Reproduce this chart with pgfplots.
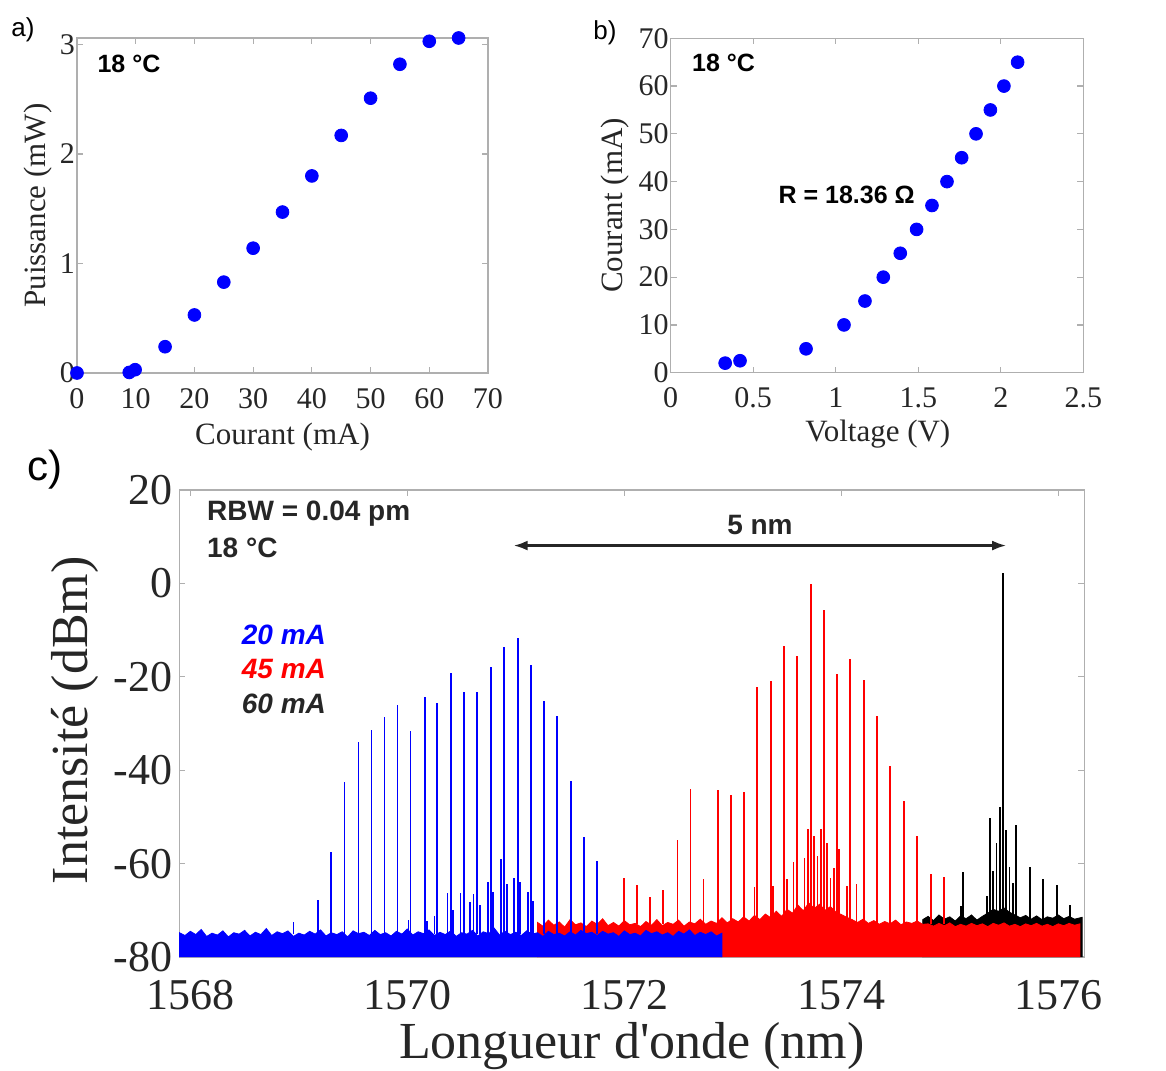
\documentclass[border=0pt]{standalone}
\usepackage{fontspec}
\setmainfont{Liberation Serif}
\newfontfamily\arial{Liberation Sans}
\usepackage{pgfplots}
\pgfplotsset{compat=1.18}
\usepackage{pgfplotstable}
\usetikzlibrary{arrows.meta}
\definecolor{axisgray}{RGB}{175,175,175}
\definecolor{txt}{RGB}{38,38,38}
\definecolor{mblue}{RGB}{0,0,255}
\definecolor{mred}{RGB}{255,0,0}

\pgfplotstableread{
x y
1567.90 -80
1567.90 -74.8
1567.95 -75.4
1568.00 -74.5
1568.05 -75.2
1568.10 -74.1
1568.15 -75.6
1568.20 -74.9
1568.25 -75.3
1568.30 -74.4
1568.35 -75.7
1568.40 -74.8
1568.45 -75.1
1568.50 -74.3
1568.55 -75.5
1568.60 -74.7
1568.65 -75.2
1568.70 -73.9
1568.75 -75.4
1568.80 -74.6
1568.85 -75.0
1568.90 -74.4
1568.95 -75.6
1569.00 -74.9
1569.05 -75.3
1569.10 -74.5
1569.15 -75.1
1569.20 -74.2
1569.25 -75.5
1569.30 -74.8
1569.35 -75.2
1569.40 -74.6
1569.45 -75.7
1569.50 -74.4
1569.55 -75.0
1569.60 -74.7
1569.65 -75.4
1569.70 -74.3
1569.75 -75.2
1569.80 -74.8
1569.85 -75.5
1569.90 -74.5
1569.95 -75.1
1570.00 -74.0
1570.05 -75.3
1570.10 -74.6
1570.15 -75.0
1570.20 -74.2
1570.25 -75.4
1570.30 -74.7
1570.35 -75.2
1570.40 -74.4
1570.45 -75.6
1570.50 -74.8
1570.55 -75.1
1570.60 -74.3
1570.65 -75.5
1570.70 -74.6
1570.75 -75.0
1570.80 -73.8
1570.85 -75.3
1570.90 -74.5
1570.95 -75.2
1571.00 -74.7
1571.05 -75.4
1571.10 -74.4
1571.15 -75.1
1571.20 -74.8
1571.25 -75.6
1571.30 -74.5
1571.35 -75.2
1571.40 -74.9
1571.45 -75.5
1571.50 -74.6
1571.55 -75.3
1571.60 -74.3
1571.65 -75.0
1571.70 -74.7
1571.75 -75.4
1571.80 -74.5
1571.85 -75.1
1571.90 -74.8
1571.95 -75.6
1572.00 -74.4
1572.05 -75.2
1572.10 -74.9
1572.15 -75.5
1572.20 -74.3
1572.25 -75.0
1572.30 -74.6
1572.35 -75.3
1572.40 -74.8
1572.45 -75.6
1572.50 -74.5
1572.55 -75.1
1572.60 -74.2
1572.65 -75.4
1572.70 -74.7
1572.75 -75.2
1572.80 -74.6
1572.85 -75.5
1572.90 -74.9
1572.90 -80
}\bluefloor

\pgfplotstableread{
x y
1571.20 -80
1571.20 -72.6
1571.25 -73.4
1571.30 -72.1
1571.35 -73.2
1571.40 -72.5
1571.45 -73.6
1571.50 -72.0
1571.55 -73.1
1571.60 -72.7
1571.65 -73.5
1571.70 -72.3
1571.75 -73.0
1571.80 -71.8
1571.85 -73.3
1571.90 -72.6
1571.95 -73.4
1572.00 -72.2
1572.05 -73.1
1572.10 -72.8
1572.15 -73.5
1572.20 -72.4
1572.25 -73.2
1572.30 -72.0
1572.35 -73.3
1572.40 -72.6
1572.45 -73.0
1572.50 -72.1
1572.55 -73.4
1572.60 -72.5
1572.65 -72.9
1572.70 -71.9
1572.75 -73.0
1572.80 -72.3
1572.85 -72.8
1572.90 -71.6
1572.95 -72.7
1573.00 -71.8
1573.05 -72.5
1573.10 -71.4
1573.15 -72.3
1573.20 -71.1
1573.25 -72.0
1573.30 -70.8
1573.35 -71.6
1573.40 -70.2
1573.45 -71.3
1573.50 -69.8
1573.55 -70.6
1573.60 -68.9
1573.65 -70.1
1573.70 -68.4
1573.75 -69.6
1573.80 -68.7
1573.85 -70.0
1573.90 -69.2
1573.95 -70.4
1574.00 -70.9
1574.05 -71.5
1574.10 -72.0
1574.15 -72.6
1574.20 -71.9
1574.25 -72.8
1574.30 -72.2
1574.35 -73.0
1574.40 -72.4
1574.45 -72.9
1574.50 -72.1
1574.55 -73.1
1574.60 -72.5
1574.65 -72.8
1574.70 -72.3
1574.75 -73.0
1574.80 -72.9
1574.85 -73.4
1574.90 -72.8
1574.95 -73.3
1575.00 -72.7
1575.05 -73.5
1575.10 -73.0
1575.15 -73.4
1575.20 -72.8
1575.25 -73.3
1575.30 -72.9
1575.35 -73.5
1575.40 -72.8
1575.45 -73.2
1575.50 -72.7
1575.55 -73.4
1575.60 -73.0
1575.65 -73.5
1575.70 -72.9
1575.75 -73.3
1575.80 -72.8
1575.85 -73.4
1575.90 -73.0
1575.95 -73.5
1576.00 -72.9
1576.05 -73.3
1576.10 -72.8
1576.15 -73.2
1576.20 -72.9
1576.20 -80
}\redfloor

\pgfplotstableread{
x y
1574.75 -80
1574.75 -72.0
1574.80 -71.3
1574.85 -72.2
1574.90 -71.0
1574.95 -71.9
1575.00 -71.4
1575.05 -72.3
1575.10 -71.2
1575.15 -71.8
1575.20 -71.0
1575.25 -72.1
1575.30 -71.3
1575.35 -70.6
1575.40 -69.8
1575.45 -70.2
1575.50 -69.5
1575.55 -70.4
1575.60 -71.0
1575.65 -71.6
1575.70 -71.1
1575.75 -71.9
1575.80 -71.2
1575.85 -72.0
1575.90 -71.4
1575.95 -71.7
1576.00 -71.0
1576.05 -71.8
1576.10 -71.3
1576.15 -71.9
1576.22 -71.5
1576.22 -80
}\blackfloor

\pgfplotstableread{
x y top
1568.95 -75 -72.6
1569.18 -75 -67.9
1569.30 -75 -57.6
1569.42 -75 -42.6
1569.55 -75 -34.0
1569.67 -75 -31.5
1569.79 -75 -28.7
1569.91 -75 -26.0
1570.01 -75 -72.1
1570.03 -75 -31.7
1570.16 -75 -24.4
1570.18 -75 -72.2
1570.25 -75 -71.2
1570.27 -75 -25.6
1570.37 -75 -66.3
1570.40 -75 -19.1
1570.42 -75 -70.0
1570.49 -75 -66.2
1570.52 -75 -23.3
1570.58 -75 -68.3
1570.61 -75 -66.5
1570.64 -75 -23.3
1570.67 -75 -68.8
1570.74 -75 -64.0
1570.77 -75 -17.8
1570.79 -75 -66.0
1570.86 -75 -59.0
1570.89 -75 -13.6
1570.92 -75 -64.4
1570.98 -75 -63.1
1571.02 -75 -11.7
1571.04 -75 -63.9
1571.11 -75 -66.0
1571.14 -75 -17.4
1571.16 -75 -68.1
1571.26 -75 -25.1
1571.38 -75 -28.3
1571.51 -75 -42.4
1571.63 -75 -54.2
1571.75 -75 -59.4
}\bluespikes

\pgfplotstableread{
x y top
1572.00 -73 -63.0
1572.12 -73 -64.6
1572.24 -73 -67.2
1572.36 -73 -65.7
1572.49 -73 -54.9
1572.61 -73 -44.0
1572.73 -73 -63.2
1572.86 -73 -44.2
1572.98 -73 -45.4
1573.10 -73 -44.7
1573.20 -73 -65.0
1573.22 -73 -22.2
1573.35 -73 -21.0
1573.37 -73 -64.7
1573.47 -73 -13.4
1573.50 -73 -63.4
1573.56 -73 -59.6
1573.59 -73 -15.6
1573.66 -73 -58.7
1573.69 -73 -52.6
1573.72 -73 -0.1
1573.75 -73 -54.0
1573.78 -73 -58.4
1573.81 -73 -52.6
1573.84 -73 -5.6
1573.87 -73 -55.5
1573.90 -73 -63.1
1573.93 -73 -60.9
1573.96 -73 -19.5
1573.98 -73 -56.9
1574.05 -73 -64.7
1574.08 -73 -16.1
1574.14 -73 -64.3
1574.21 -73 -20.6
1574.33 -73 -28.5
1574.45 -73 -39.2
1574.58 -73 -46.5
1574.70 -73 -54.0
1574.83 -73 -62.2
1574.95 -73 -62.8
}\redspikes

\pgfplotstableread{
x y top
1575.10 -72 -69.0
1575.12 -72 -61.9
1575.34 -72 -67.0
1575.37 -72 -50.3
1575.40 -72 -61.5
1575.43 -72 -55.5
1575.46 -72 -47.8
1575.49 -72 2.3
1575.52 -72 -52.8
1575.55 -72 -60.7
1575.58 -72 -64.2
1575.61 -72 -51.7
1575.74 -72 -60.7
1575.86 -72 -63.3
1575.99 -72 -64.6
1576.11 -72 -68.8
}\blackspikes

\pgfplotsset{
  matlab/.style={
    scale only axis,
    axis line style={draw=axisgray, line width=0.6pt},
    tick style={draw=axisgray, line width=0.6pt},
    tick align=inside,
    major tick length=3pt,
    minor tick num=0,
    ticklabel style={text=txt},
    label style={text=txt},
    scaled ticks=false,
    /pgf/number format/assume math mode=true,
    /pgf/number format/1000 sep={},
    clip=false,
  },
  spike/.style={draw=none, mark=none,
    error bars/.cd, y dir=plus, y explicit, error mark=none,
    error bar style={draw=#1, line width=0.9pt}},
}

\begin{document}
\begin{tikzpicture}
\path[use as bounding box] (0,0) rectangle (583pt,535pt);

% ---------------- panel a
\begin{axis}[matlab,
  at={(38.5pt,348.5pt)}, anchor=south west,
  width=205.5pt, height=167.5pt,
  xmin=0, xmax=70, ymin=0, ymax=3.06,
  xtick={0,10,...,70}, ytick={0,1,2,3},
  ticklabel style={font=\fontsize{15}{15}\selectfont},
  xticklabel style={yshift=-4pt},
  yticklabel style={xshift=2.5pt},
  xlabel={Courant (mA)}, ylabel={Puissance (mW)},
  label style={font=\fontsize{15.5}{15.5}\selectfont},
  xlabel style={at={(axis description cs:0.5,-0.19)}, anchor=center},
  ylabel style={at={(axis description cs:-0.095,0.5)}, anchor=center},
]
\addplot[only marks, mark=*, mark size=3.2pt, color=mblue] coordinates {
(0,0) (8.9,0.005) (9.9,0.03) (15,0.24) (20,0.53) (25,0.83) (30,1.14)
(35,1.47) (40,1.80) (45,2.17) (50,2.51) (55,2.82) (60,3.03) (65,3.06)};
\node[anchor=west, font=\arial\bfseries\fontsize{12.5}{12.5}\selectfont] at (axis cs:2.3,2.82) {18 °C};
\end{axis}

% ---------------- panel b
\begin{axis}[matlab,
  at={(335.35pt,348.65pt)}, anchor=south west,
  width=206.3pt, height=167.2pt,
  xmin=0, xmax=2.5, ymin=0, ymax=70,
  xtick={0,0.5,1,1.5,2,2.5}, ytick={0,10,...,70},
  ticklabel style={font=\fontsize{15}{15}\selectfont},
  xticklabel style={yshift=-4pt},
  yticklabel style={xshift=2.5pt},
  xlabel={Voltage (V)}, ylabel={Courant (mA)},
  label style={font=\fontsize{15.5}{15.5}\selectfont},
  xlabel style={at={(axis description cs:0.502,-0.185)}, anchor=center},
  ylabel style={at={(axis description cs:-0.135,0.5)}, anchor=center},
]
\addplot[only marks, mark=*, mark size=3.2pt, color=mblue] coordinates {
(0.33,2) (0.42,2.5) (0.82,5) (1.05,10) (1.177,15) (1.288,20) (1.391,25)
(1.49,30) (1.583,35) (1.674,40) (1.763,45) (1.85,50) (1.937,55) (2.019,60) (2.102,65)};
\node[anchor=west, font=\arial\bfseries\fontsize{12.5}{12.5}\selectfont] at (axis cs:0.087,64.8) {18 °C};
\node[font=\arial\bfseries\fontsize{12.5}{12.5}\selectfont] at (axis cs:1.066,37.2) {R = 18.36 Ω};
\end{axis}

% ---------------- panel c
\begin{axis}[matlab,
  at={(89.75pt,56.5pt)}, anchor=south west,
  width=452.4pt, height=233.5pt,
  xmin=1567.9, xmax=1576.24, ymin=-80, ymax=20,
  xtick={1568,1570,...,1576}, ytick={-80,-60,...,20},
  ticklabel style={font=\fontsize{22}{22}\selectfont},
  xticklabel style={yshift=-8pt},
  xlabel={Longueur d\textquotesingle onde (nm)}, ylabel={Intensité (dBm)},
  label style={font=\fontsize{26}{26}\selectfont},
  xlabel style={at={(axis description cs:0.5,-0.19)}, anchor=center},
  ylabel style={at={(axis description cs:-0.1155,0.507)}, anchor=center},
]
\addplot[draw=black, fill=black, line width=0.4pt] table[x=x,y=y] \blackfloor;
\addplot[spike=black] table[x=x, y=y, y error plus expr={\thisrow{top}-\thisrow{y}}] \blackspikes;
\addplot[draw=mred, fill=mred, line width=0.4pt] table[x=x,y=y] \redfloor;
\addplot[spike=mred] table[x=x, y=y, y error plus expr={\thisrow{top}-\thisrow{y}}] \redspikes;
\addplot[draw=mblue, fill=mblue, line width=0.4pt] table[x=x,y=y] \bluefloor;
\addplot[spike=mblue] table[x=x, y=y, y error plus expr={\thisrow{top}-\thisrow{y}}] \bluespikes;

\draw[{Latex[length=7pt,width=5pt]}-{Latex[length=7pt,width=5pt]}, line width=1.2pt, draw=txt]
  (axis cs:1570.98,8.1) -- (axis cs:1575.52,8.1);
\node[font=\arial\bfseries\fontsize{14}{14}\selectfont, text=txt] at (axis cs:1573.25,12.4) {5 nm};
\node[anchor=west, font=\arial\bfseries\fontsize{14}{14}\selectfont, text=txt] at (axis cs:1568.09,15.0) {RBW = 0.04 pm};
\node[anchor=west, font=\arial\bfseries\fontsize{14}{14}\selectfont, text=txt] at (axis cs:1568.09,7.5) {18 °C};
\node[anchor=west, font=\arial\bfseries\itshape\fontsize{14}{14}\selectfont, text=mblue] at (axis cs:1568.41,-11.1) {20 mA};
\node[anchor=west, font=\arial\bfseries\itshape\fontsize{14}{14}\selectfont, text=mred] at (axis cs:1568.41,-18.4) {45 mA};
\node[anchor=west, font=\arial\bfseries\itshape\fontsize{14}{14}\selectfont, text=txt] at (axis cs:1568.41,-25.7) {60 mA};
\end{axis}

\node[font=\arial\fontsize{13}{13}\selectfont] at (11.5pt,520pt) {a)};
\node[font=\arial\fontsize{13}{13}\selectfont] at (302.5pt,518.5pt) {b)};
\node[font=\arial\fontsize{21}{21}\selectfont] at (22.5pt,300pt) {c)};
\end{tikzpicture}
\end{document}
